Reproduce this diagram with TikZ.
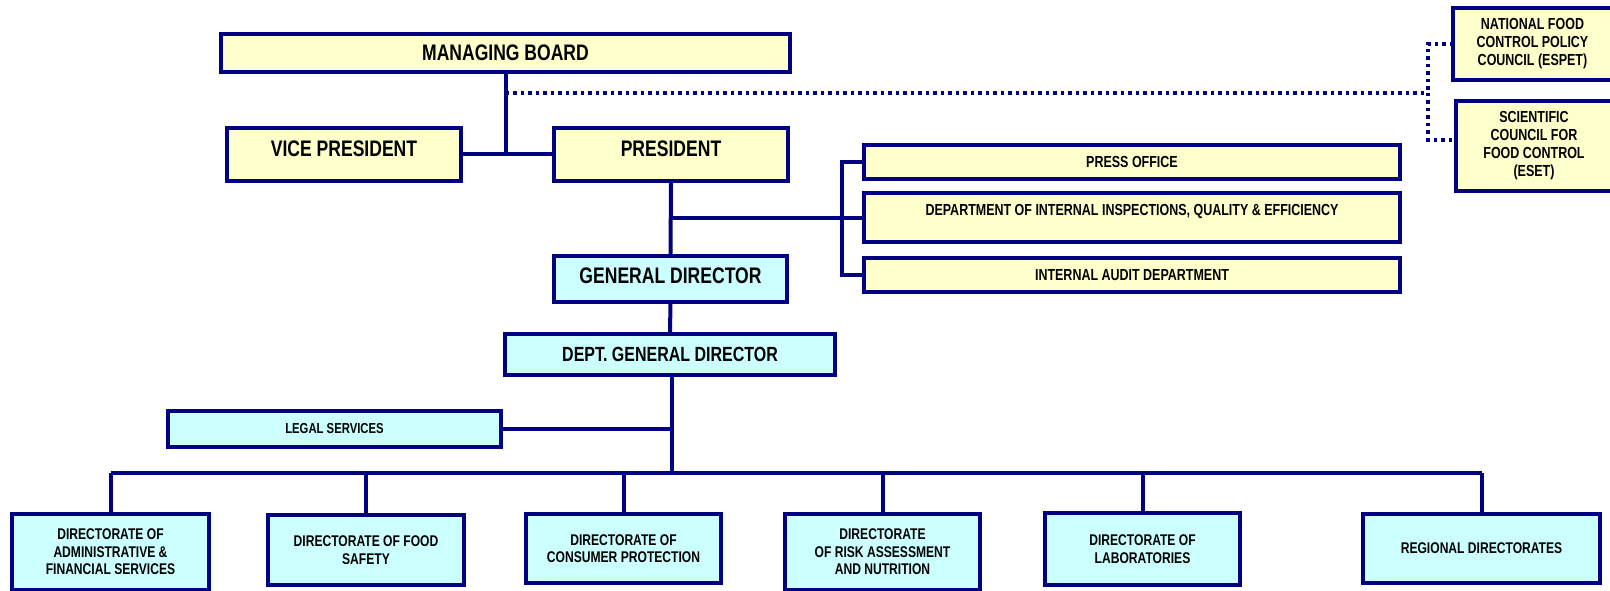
\documentclass[tikz,border=0pt]{standalone}
\usepackage{fontspec}
\setmainfont[FakeStretch=0.78]{Liberation Sans}
\usepackage{tikz}
\definecolor{navyline}{RGB}{0,0,128}
\definecolor{boxyellow}{RGB}{255,255,204}
\definecolor{boxcyan}{RGB}{204,255,255}
\tikzset{
	orgbox/.style={draw=navyline, line width=4pt, inner sep=0pt, outer sep=0pt, align=center, text=black},
	ybox/.style={orgbox, fill=boxyellow},
	cbox/.style={orgbox, fill=boxcyan},
	boxsize/.style args={#1x#2}{minimum width=#1pt, minimum height=#2pt},
	bigtxt/.style={font=\bfseries\fontsize{22.5}{26}\selectfont},
	midtxt/.style={font=\bfseries\fontsize{20.5}{24}\selectfont},
	smalltxt/.style={font=\bfseries\fontsize{16}{18}\selectfont},
	dirtxt/.style={font=\bfseries\fontsize{15.5}{17.5}\selectfont},
	conn/.style={draw=navyline, line width=4pt},
	dotline/.style={draw=navyline, line width=3.5pt, dash pattern=on 3.5pt off 4pt}
}

\begin{document}
\begin{tikzpicture}[x=1pt, y=-1pt]
	\useasboundingbox (0,0) rectangle (1610,591);
	\clip (0,0) rectangle (1610,591);
	
	\node[ybox, bigtxt, boxsize=569x38] (mb) at (505.5,53) {MANAGING BOARD};
	\node[ybox, bigtxt, boxsize=234x53, text depth=11pt] (vp) at (344,154.5) {VICE PRESIDENT};
	\node[ybox, bigtxt, boxsize=234x53, text depth=11pt] (pres) at (671,154.5) {PRESIDENT};
	
	\node[ybox, smalltxt, boxsize=536x34] (press) at (1132,162) {PRESS OFFICE};
	\node[ybox, smalltxt, boxsize=536x49, text depth=15pt] (insp) at (1132,217.5) {DEPARTMENT OF INTERNAL INSPECTIONS, QUALITY \& EFFICIENCY};
	\node[ybox, smalltxt, boxsize=536x34] (audit) at (1132,275) {INTERNAL AUDIT DEPARTMENT};
	
	\node[ybox, smalltxt, boxsize=159x72] (espet) at (1532.5,44) {NATIONAL FOOD\\CONTROL POLICY\\COUNCIL (ESPET)};
	\node[ybox, smalltxt, boxsize=156x90] (eset) at (1534,146) {SCIENTIFIC\\COUNCIL FOR\\FOOD CONTROL\\(ESET)};
	
	\node[cbox, bigtxt, boxsize=233x46, text depth=6pt] (gd) at (670.5,279) {GENERAL DIRECTOR};
	\node[cbox, midtxt, boxsize=330x41] (dgd) at (670,354.5) {DEPT. GENERAL DIRECTOR};
	\node[cbox, font=\bfseries\fontsize{14.5}{17}\selectfont, boxsize=333x36] (legal) at (334.5,429) {LEGAL SERVICES};
	
	\node[cbox, dirtxt, boxsize=197x76] (dadm) at (110.5,552) {DIRECTORATE OF\\ADMINISTRATIVE \&\\FINANCIAL SERVICES};
	\node[cbox, dirtxt, boxsize=196x70] (dfood) at (366,550) {DIRECTORATE OF FOOD\\SAFETY};
	\node[cbox, dirtxt, boxsize=195x69] (dcons) at (623.5,548.5) {DIRECTORATE OF\\CONSUMER PROTECTION};
	\node[cbox, dirtxt, boxsize=195x76] (drisk) at (882.5,552) {DIRECTORATE\\OF RISK ASSESSMENT\\AND NUTRITION};
	\node[cbox, dirtxt, boxsize=195x72] (dlab) at (1142.5,549) {DIRECTORATE OF\\LABORATORIES};
	\node[cbox, dirtxt, boxsize=237x69] (dreg) at (1481.5,548.5) {REGIONAL DIRECTORATES};
	
	\coordinate (dj) at (1428,93);
	\coordinate (br) at (842,217);
	\coordinate (bus) at (672,473);
	
	\draw[conn] (mb.south) -- (mb.south |- vp.east);
	\draw[conn] (vp) -- (pres);
	\draw[dotline] (mb.south |- dj) -- (dj);
	\draw[dotline] (espet.west) -| (dj);
	\draw[dotline] (dj) |- ([yshift=6pt]eset.west);
	
	\draw[conn] (pres) -- (gd);
	\draw[conn] (pres.south |- insp.west) -- (insp.west);
	\draw[conn] (press.west) -| (br |- audit.west) -- (audit.west);
	
	\draw[conn] (gd) -- (dgd);
	\draw[conn] (dgd.south -| bus) -- (bus);
	\draw[conn] (legal.east) -- (legal.east -| bus);
	\draw[conn] (dadm.north |- bus) -- (dreg.north |- bus);
	\foreach \d in {dadm, dfood, dcons, drisk, dlab, dreg}
		\draw[conn] (\d.north) -- (\d.north |- bus);
	
\end{tikzpicture}
\end{document}
